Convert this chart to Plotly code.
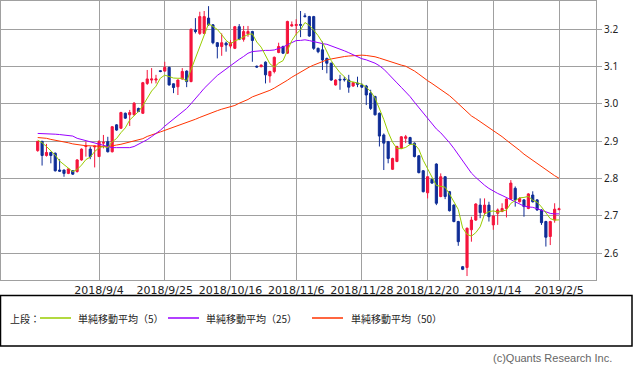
import plotly.graph_objects as go
import pandas as pd

# ---------------- data ----------------
tick_pos = [14, 29, 44, 59, 74, 89, 104, 119]
tick_labels = ["2018/9/4", "2018/9/25", "2018/10/16", "2018/11/6",
               "2018/11/28", "2018/12/20", "2019/1/14", "2019/2/5"]
y_ticks = [2.6, 2.7, 2.8, 2.9, 3.0, 3.1, 3.2]

open_ = [
    2.875, 2.900, 2.862, 2.870, 2.868, 2.823, 2.823, 2.814, 2.821, 2.819,
    2.850, 2.886, 2.879, 2.885, 2.859, 2.895, 2.899, 2.872, 2.944, 2.935,
    2.975, 2.971, 2.971, 2.988, 2.975, 3.055, 3.064, 3.064, 3.089, 3.088,
    3.098, 3.054, 3.046, 3.067, 3.088, 3.060, 3.198, 3.189, 3.189, 3.230,
    3.212, 3.164, 3.154, 3.163, 3.155, 3.149, 3.207, 3.173, 3.188, 3.194,
    3.101, 3.100, 3.112, 3.075, 3.087, 3.138, 3.154, 3.136, 3.209, 3.210,
    3.213, 3.236, 3.234, 3.234, 3.149, 3.145, 3.122, 3.109, 3.051, 3.066,
    3.066, 3.064, 3.048, 3.056, 3.051, 3.048, 3.029, 3.020, 2.975, 2.917,
    2.899, 2.825, 2.846, 2.881, 2.908, 2.910, 2.895, 2.861, 2.821, 2.762,
    2.798, 2.839, 2.752, 2.805, 2.765, 2.729, 2.685, 2.564, 2.562, 2.663,
    2.689, 2.729, 2.709, 2.729, 2.676, 2.707, 2.712, 2.720, 2.745, 2.774,
    2.738, 2.743, 2.720, 2.756, 2.743, 2.716, 2.685, 2.645, 2.689, 2.717,
]
high = [
    2.900, 2.900, 2.893, 2.872, 2.870, 2.852, 2.824, 2.828, 2.823, 2.852,
    2.881, 2.899, 2.886, 2.888, 2.903, 2.917, 2.912, 2.941, 2.946, 2.979,
    2.977, 2.984, 3.005, 2.990, 3.059, 3.091, 3.096, 3.078, 3.090, 3.113,
    3.100, 3.055, 3.066, 3.096, 3.090, 3.202, 3.230, 3.247, 3.249, 3.262,
    3.214, 3.166, 3.189, 3.167, 3.171, 3.209, 3.214, 3.209, 3.209, 3.196,
    3.103, 3.106, 3.114, 3.089, 3.127, 3.164, 3.156, 3.223, 3.221, 3.227,
    3.249, 3.243, 3.236, 3.236, 3.151, 3.167, 3.124, 3.111, 3.066, 3.078,
    3.073, 3.078, 3.059, 3.073, 3.055, 3.051, 3.038, 3.022, 2.977, 2.921,
    2.901, 2.856, 2.888, 2.914, 2.917, 2.912, 2.897, 2.863, 2.823, 2.807,
    2.800, 2.841, 2.814, 2.807, 2.767, 2.731, 2.687, 2.566, 2.669, 2.698,
    2.734, 2.747, 2.747, 2.738, 2.702, 2.720, 2.734, 2.747, 2.796, 2.779,
    2.750, 2.745, 2.761, 2.766, 2.745, 2.718, 2.687, 2.687, 2.734, 2.722,
]
low = [
    2.872, 2.835, 2.859, 2.841, 2.819, 2.818, 2.805, 2.812, 2.810, 2.816,
    2.848, 2.859, 2.852, 2.830, 2.858, 2.881, 2.870, 2.870, 2.928, 2.933,
    2.960, 2.941, 2.969, 2.978, 2.973, 3.051, 3.055, 3.055, 3.085, 3.087,
    3.049, 3.029, 3.024, 3.065, 3.045, 3.058, 3.189, 3.185, 3.187, 3.209,
    3.160, 3.122, 3.129, 3.140, 3.149, 3.147, 3.171, 3.167, 3.180, 3.113,
    3.097, 3.098, 3.055, 3.057, 3.082, 3.136, 3.134, 3.134, 3.207, 3.185,
    3.179, 3.232, 3.180, 3.145, 3.136, 3.091, 3.082, 3.062, 3.049, 3.038,
    3.060, 3.030, 3.046, 3.045, 3.043, 2.997, 2.984, 2.969, 2.886, 2.823,
    2.841, 2.823, 2.844, 2.879, 2.895, 2.891, 2.857, 2.814, 2.763, 2.747,
    2.786, 2.729, 2.750, 2.745, 2.712, 2.683, 2.620, 2.555, 2.539, 2.631,
    2.687, 2.694, 2.703, 2.685, 2.663, 2.676, 2.710, 2.696, 2.743, 2.725,
    2.736, 2.698, 2.718, 2.736, 2.714, 2.676, 2.618, 2.622, 2.682, 2.715,
]
close = [
    2.900, 2.862, 2.870, 2.862, 2.821, 2.820, 2.814, 2.826, 2.812, 2.850,
    2.879, 2.888, 2.859, 2.887, 2.899, 2.897, 2.872, 2.939, 2.930, 2.977,
    2.962, 2.977, 3.002, 2.980, 3.057, 3.067, 3.067, 3.067, 3.087, 3.098,
    3.051, 3.044, 3.064, 3.087, 3.060, 3.200, 3.194, 3.234, 3.234, 3.212,
    3.164, 3.154, 3.164, 3.158, 3.164, 3.207, 3.173, 3.194, 3.194, 3.170,
    3.099, 3.104, 3.078, 3.087, 3.125, 3.154, 3.136, 3.221, 3.212, 3.213,
    3.211, 3.234, 3.182, 3.149, 3.140, 3.118, 3.109, 3.064, 3.064, 3.064,
    3.065, 3.045, 3.057, 3.053, 3.045, 3.024, 2.988, 2.971, 2.914, 2.895,
    2.854, 2.854, 2.886, 2.912, 2.912, 2.893, 2.859, 2.816, 2.765, 2.805,
    2.788, 2.734, 2.805, 2.752, 2.714, 2.685, 2.631, 2.557, 2.667, 2.689,
    2.732, 2.709, 2.729, 2.698, 2.700, 2.716, 2.720, 2.745, 2.788, 2.743,
    2.747, 2.725, 2.759, 2.738, 2.716, 2.682, 2.643, 2.685, 2.718, 2.719,
]

# moving-average values at the start of the window (need data before the chart)
ma5_head = [2.903, 2.896, 2.886, 2.875]
ma25_head = [2.921, 2.921, 2.921, 2.920, 2.919, 2.918, 2.916, 2.915, 2.914, 2.908,
             2.905, 2.901, 2.897, 2.895, 2.892, 2.888, 2.885, 2.883, 2.883, 2.883,
             2.883, 2.883, 2.886, 2.892]
ma50_head = [2.910, 2.909, 2.908, 2.905, 2.903, 2.901, 2.898, 2.896, 2.893, 2.891,
             2.889, 2.888, 2.888, 2.887, 2.887, 2.886, 2.886, 2.887, 2.890, 2.892,
             2.895, 2.896, 2.900, 2.904, 2.907, 2.913, 2.916, 2.921, 2.925, 2.929,
             2.934, 2.939, 2.943, 2.946, 2.950, 2.954, 2.959, 2.964, 2.969, 2.973,
             2.979, 2.982, 2.986, 2.989, 2.993, 2.996, 3.002, 3.006, 3.012]

legend_prefix = "上段："
legend_names = ["単純移動平均（5）", "単純移動平均（25）", "単純移動平均（50）"]
copyright_text = "(c)Quants Research Inc."

# ---------------- derived ----------------
idx = list(range(len(close)))
cs = pd.Series(close)


def ma(n, head):
    m = cs.rolling(n).mean().tolist()
    m[:len(head)] = head
    return m


ma5 = ma(5, ma5_head)
ma25 = ma(25, ma25_head)
ma50 = ma(50, ma50_head)

RED = "#F5143C"
BLUE = "#0F2D96"
C5 = "#99CC00"
C25 = "#9900FF"
C50 = "#FF3300"
GRID = "#a0a0a0"

W, H = 633, 373
L, R, T, B = 1, 37, 1, 93
PW, PH = W - L - R, H - T - B


def px(x):
    return (x - L) / PW


def py(y):
    return (T + PH - y) / PH


fig = go.Figure()
fig.add_trace(go.Candlestick(
    x=idx, open=open_, high=high, low=low, close=close,
    increasing=dict(line=dict(color=RED, width=1), fillcolor=RED),
    decreasing=dict(line=dict(color=BLUE, width=1), fillcolor=BLUE),
    whiskerwidth=0, showlegend=False, hoverinfo="skip"))
for ys, col in [(ma50, C50), (ma25, C25), (ma5, C5)]:
    fig.add_trace(go.Scatter(x=idx, y=ys, mode="lines",
                             line=dict(color=col, width=1), showlegend=False,
                             hoverinfo="skip"))

fig.update_layout(
    width=W, height=H, margin=dict(l=L, r=R, t=T, b=B),
    paper_bgcolor="white", plot_bgcolor="white", showlegend=False,
    xaxis=dict(range=[-8.38, 127.44], tickmode="array", tickvals=tick_pos,
               ticktext=tick_labels, tickangle=0, showgrid=True, gridcolor=GRID,
               gridwidth=1, zeroline=False, showline=True, mirror=True,
               linecolor=GRID, linewidth=1, ticks="", rangeslider=dict(visible=False),
               tickfont=dict(family="DejaVu Sans", size=11, color="#222")),
    yaxis=dict(range=[2.5284, 3.2758], side="right", tickmode="array",
               tickvals=y_ticks, tickformat=".1f", showgrid=True, gridcolor=GRID,
               gridwidth=1, zeroline=False, showline=True, mirror=True,
               linecolor=GRID, linewidth=1, ticks="outside", ticklen=5,
               tickcolor=GRID,
               tickfont=dict(family="Noto Sans", size=10, color="#222")),
)

# legend box (drawn manually)
shapes = [dict(type="rect", xref="paper", yref="paper", x0=px(0.5), x1=px(632),
               y0=py(295.5), y1=py(346), line=dict(color="black", width=1.5),
               fillcolor="rgba(0,0,0,0)")]
line_spans = [(40, 71, C5), (168, 199, C25), (312, 343, C50)]
for x0, x1, col in line_spans:
    shapes.append(dict(type="line", xref="paper", yref="paper", x0=px(x0), x1=px(x1),
                       y0=py(318), y1=py(318), line=dict(color=col, width=1.5)))
fig.update_layout(shapes=shapes)

cjk = dict(family="Noto Sans CJK JP", size=10, color="#222")
ann = [dict(text=legend_prefix, x=px(8), y=py(318), xanchor="left", yanchor="middle",
            xref="paper", yref="paper", showarrow=False, font=cjk)]
for xs, name in zip([76, 204, 349], legend_names):
    ann.append(dict(text=name, x=px(xs), y=py(318), xanchor="left", yanchor="middle",
                    xref="paper", yref="paper", showarrow=False, font=cjk))
ann.append(dict(text=copyright_text, x=px(614), y=py(358), xanchor="right",
                yanchor="middle", xref="paper", yref="paper", showarrow=False,
                font=dict(family="Liberation Sans", size=11, color="#666")))
fig.update_layout(annotations=ann)

fig.write_html("out.html", config={"displayModeBar": False},
               post_script="document.body.style.margin='0';document.body.style.padding='0';")
